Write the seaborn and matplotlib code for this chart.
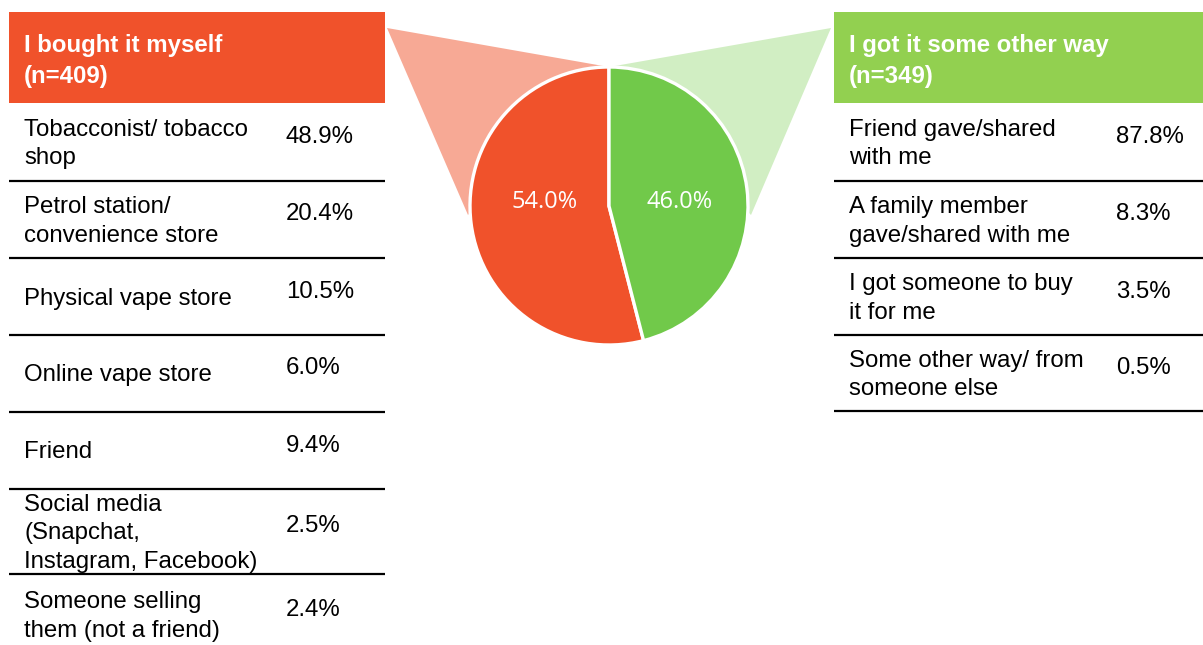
import matplotlib
matplotlib.use("Agg")
import matplotlib.pyplot as plt
from matplotlib.patches import Polygon, Rectangle
import seaborn as sns

# ---- data -------------------------------------------------------------
group_titles = ["I bought it myself", "I got it some other way"]
group_n = [409, 349]
group_share = [54.0, 46.0]

bought_labels = [
    "Tobacconist/ tobacco\nshop",
    "Petrol station/\nconvenience store",
    "Physical vape store",
    "Online vape store",
    "Friend",
    "Social media\n(Snapchat,\nInstagram, Facebook)",
    "Someone selling\nthem (not a friend)",
]
bought_values = [48.9, 20.4, 10.5, 6.0, 9.4, 2.5, 2.4]

other_labels = [
    "Friend gave/shared\nwith me",
    "A family member\ngave/shared with me",
    "I got someone to buy\nit for me",
    "Some other way/ from\nsomeone else",
]
other_values = [87.8, 8.3, 3.5, 0.5]

# ---- style ------------------------------------------------------------
sns.set_theme(style="white")
plt.rcParams["font.family"] = ["Liberation Sans", "DejaVu Sans"]

red, green = sns.color_palette(["#F0522B", "#71C94A"])
header_colors = ["#F0522B", "#92D050"]
fan_colors = ["#F7A995", "#D1EEC3"]

W, H = 1203, 645
fig = plt.figure(figsize=(W / 100, H / 100), dpi=100)
ax = fig.add_axes([0, 0, 1, 1])


def fy(y):
    """Convert a top-down pixel row to the axes' upward coordinate."""
    return H - y


FS = 17.3
LS = 1.4

# ---- central pie with connector fans ----------------------------------
cx, cy, r = 609, 206, 139
ax.add_patch(Polygon([(387, fy(28)), (cx, fy(67)), (468, fy(215))],
                     closed=True, facecolor=fan_colors[0], edgecolor="none", zorder=1))
ax.add_patch(Polygon([(831, fy(28)), (cx, fy(67)), (751, fy(215))],
                     closed=True, facecolor=fan_colors[1], edgecolor="none", zorder=1))

ax.pie(group_share, colors=[red, green], startangle=90, counterclock=True,
       center=(cx, fy(cy)), radius=r,
       wedgeprops=dict(edgecolor="white", linewidth=2.4, zorder=3))

label_dx = [-64, 71]
for val, dx in zip(group_share, label_dx):
    ax.text(cx + dx, fy(cy - 4), f"{val:.1f}%", ha="center", va="center",
            color="white", fontsize=17, family=["Open Sans", "DejaVu Sans"], zorder=4)

# ---- side tables ------------------------------------------------------
tables = [
    dict(x0=9, x1=385, tx=24, vx=286,
         rows=[103, 181, 258, 335, 412, 489, 574, 655],
         labels=bought_labels, values=bought_values),
    dict(x0=834, x1=1203, tx=849, vx=1116,
         rows=[103, 181, 258, 335, 411],
         labels=other_labels, values=other_values),
]

for i, t in enumerate(tables):
    ax.add_patch(Rectangle((t["x0"], fy(103)), t["x1"] - t["x0"], 91,
                           facecolor=header_colors[i], edgecolor="none", zorder=2))
    ax.text(t["tx"], fy(61), f"{group_titles[i]}\n(n={group_n[i]})",
            ha="left", va="center", color="white", fontsize=FS,
            fontweight="bold", linespacing=LS, zorder=3)
    rows = t["rows"]
    for j, (lab, val) in enumerate(zip(t["labels"], t["values"])):
        top, bot = rows[j], rows[j + 1]
        mid = (top + bot) / 2 + 2
        ax.text(t["tx"], fy(mid), lab, ha="left", va="center",
                color="black", fontsize=FS, linespacing=LS, zorder=3)
        ax.text(t["vx"], fy(mid - 7), f"{val:.1f}%", ha="left", va="center",
                color="black", fontsize=FS, zorder=3)
        if bot < H:
            ax.plot([t["x0"], t["x1"]], [fy(bot), fy(bot)], color="black",
                    linewidth=1.6, solid_capstyle="butt", zorder=3)

ax.set_aspect("auto")
ax.set_xlim(0, W)
ax.set_ylim(0, H)
ax.axis("off")

fig.savefig("out.png", dpi=100, facecolor="white")
